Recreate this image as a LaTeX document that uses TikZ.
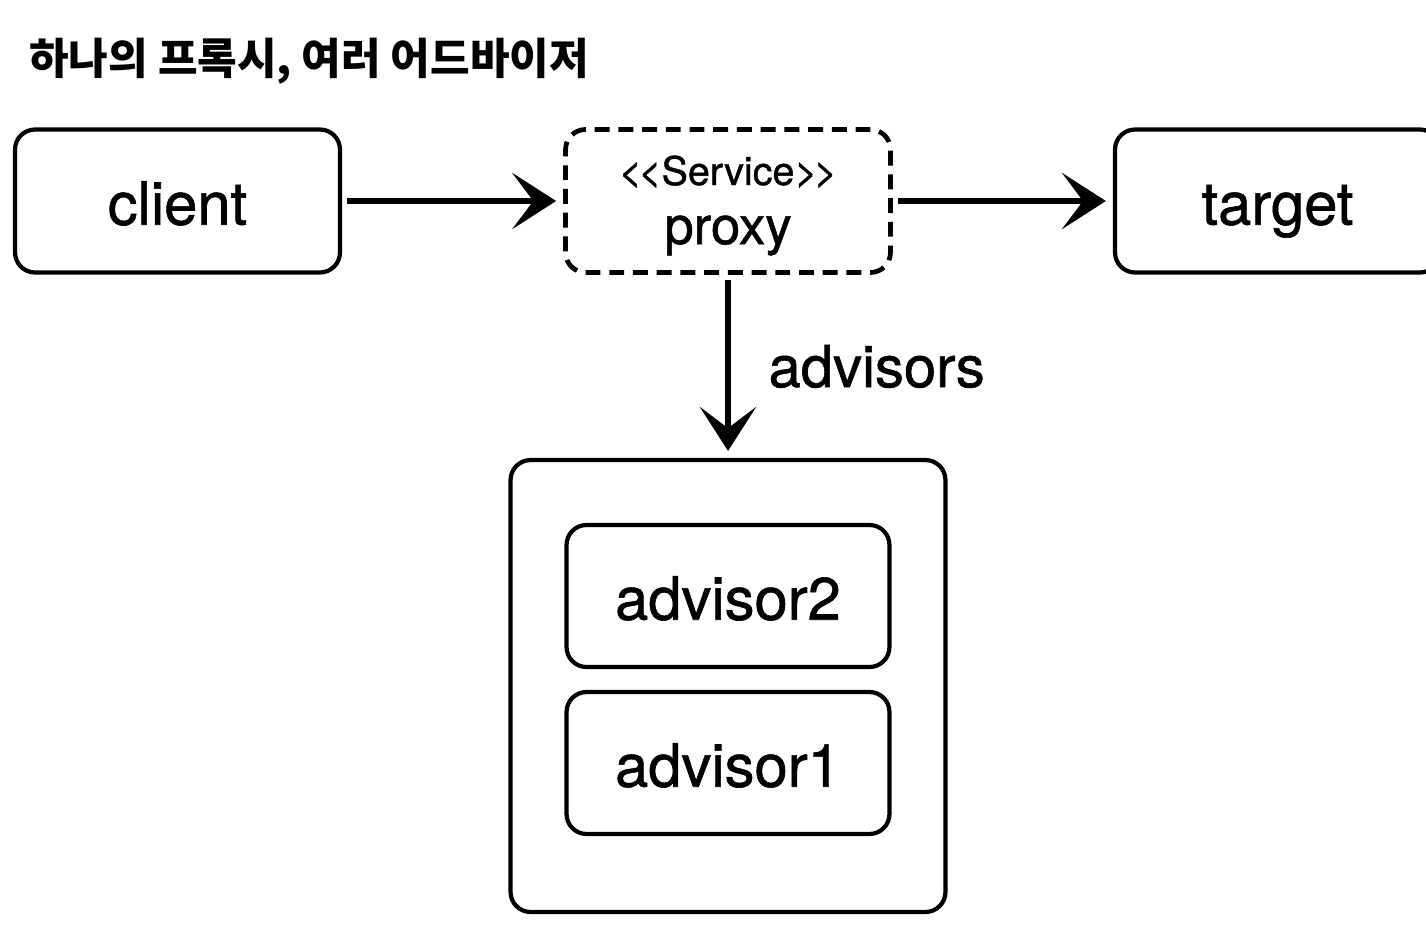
\documentclass[tikz,border=0pt]{standalone}
\usepackage{fontspec}
\setmainfont{TeX Gyre Heros}
\newfontfamily\labelfont{TeX Gyre Heros}[FakeBold=1]
\newfontfamily\krfont{Noto Sans CJK KR}
\usetikzlibrary{arrows.meta,positioning}

\begin{document}
\begin{tikzpicture}[x=0.02cm,y=-0.02cm,
    box/.style={draw,line width=2.4pt,rounded corners=0.4cm,minimum width=6.5cm,minimum height=2.86cm,
        text height=27pt,text depth=0pt,font=\labelfont\fontsize{34}{40}\selectfont},
    proxybox/.style={box,line width=2.7pt,dash pattern=on 8.5pt off 5pt},
    innerbox/.style={box,minimum width=6.46cm,minimum height=2.84cm},
    flow/.style={line width=3pt,-{Stealth[length=25pt,width=32pt,inset=12pt]},shorten <=3pt,shorten >=4pt}]
\useasboundingbox (0,0) rectangle (1426,946);
% title
\node[anchor=west,inner sep=0pt,font=\krfont\bfseries\fontsize{24.5}{30}\selectfont] (title) at (29,61) {하나의 프록시, 여러 어드바이저};
% top row
\node[box] (client) at (177.5,201) {client};
\node[proxybox] (proxy) at (728,201) {};
\node[anchor=base,inner sep=0pt,font=\labelfont\fontsize{22.5}{26}\selectfont] (stereo) at (728,185) {<\kern-2pt<Service>\kern-2pt>};
\node[anchor=base,inner sep=0pt,font=\labelfont\fontsize{30}{36}\selectfont] (proxyname) at (728,244) {proxy};
\node[box] (target) at (1277.5,201) {target};
% advisor chain
\node[box,minimum width=8.7cm,minimum height=9.04cm] (advisors) at (728,686) {};
\node[innerbox] (advisor2) at (728,596) {advisor2};
\node[innerbox] (advisor1) at (728,763) {advisor1};
% arrows
\draw[flow] (client) -- (proxy);
\draw[flow] (proxy) -- (target);
\draw[flow] (proxy) -- node[right=0.76cm,inner sep=0pt,font=\labelfont\fontsize{33}{40}\selectfont] {advisors} (advisors);
\end{tikzpicture}
\end{document}
